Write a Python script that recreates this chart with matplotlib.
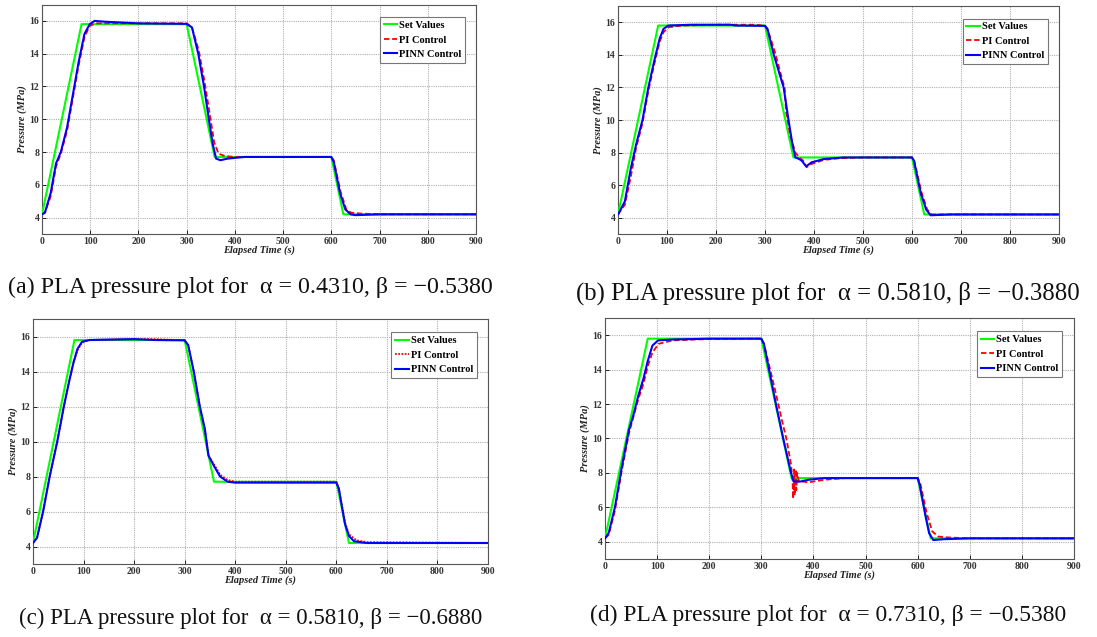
import matplotlib
matplotlib.use("Agg")
import matplotlib.pyplot as plt

# ---------------- data ----------------
t_set = [0, 82, 300, 358, 600, 625, 900]
p_set = [4.2, 15.8, 15.8, 7.7, 7.7, 4.2, 4.2]

# (a)
t_pi_a = [0, 6, 18, 29, 39, 52, 64, 76, 88, 99, 112, 300, 311, 325, 337, 348, 357, 366, 380, 400, 600, 605, 619, 631, 641, 660, 700, 900]
p_pi_a = [4.2, 4.3, 5.3, 7.1, 7.9, 9.3, 11.3, 13.3, 15.0, 15.7, 15.85, 15.85, 15.6, 14.2, 12.3, 10.3, 8.6, 7.9, 7.75, 7.7, 7.7, 7.5, 5.6, 4.5, 4.3, 4.25, 4.2, 4.2]
t_nn_a = [0, 6, 18, 29, 39, 52, 64, 76, 88, 99, 109, 130, 200, 300, 311, 324, 336, 346, 354, 361, 370, 385, 420, 600, 605, 618, 629, 640, 650, 700, 900]
p_nn_a = [4.2, 4.3, 5.5, 7.3, 8.0, 9.5, 11.5, 13.5, 15.2, 15.8, 16.0, 15.95, 15.85, 15.82, 15.6, 14.0, 12.0, 10.0, 8.5, 7.6, 7.5, 7.6, 7.7, 7.7, 7.4, 5.5, 4.5, 4.2, 4.15, 4.2, 4.2]

# (b)
t_pi_b = [0, 14, 26, 37, 50, 62, 73, 85, 93, 104, 130, 200, 280, 300, 306, 320, 335, 340, 343, 352, 362, 370, 378, 385, 395, 420, 450, 500, 600, 605, 619, 631, 640, 680, 900]
p_pi_b = [4.2, 4.8, 6.5, 8.3, 9.8, 11.8, 13.3, 14.8, 15.4, 15.7, 15.8, 15.85, 15.85, 15.78, 15.5, 14.2, 12.5, 12.0, 10.5, 9.0, 8.0, 7.7, 7.5, 7.1, 7.3, 7.55, 7.65, 7.7, 7.7, 7.45, 5.6, 4.5, 4.2, 4.2, 4.2]
t_nn_b = [0, 14, 26, 37, 50, 62, 73, 85, 93, 103, 150, 230, 240, 300, 305, 318, 338, 348, 356, 362, 370, 375, 384, 395, 420, 460, 600, 604, 618, 629, 638, 680, 900]
p_nn_b = [4.2, 5.0, 7.0, 8.5, 10.0, 12.0, 13.5, 15.0, 15.6, 15.8, 15.85, 15.85, 15.8, 15.78, 15.6, 14.0, 12.0, 10.0, 8.5, 7.7, 7.6, 7.5, 7.15, 7.4, 7.6, 7.7, 7.7, 7.5, 5.5, 4.5, 4.15, 4.2, 4.2]

# (c)
t_pi_c = [0, 8, 20, 33, 48, 61, 72, 80, 88, 97, 112, 200, 240, 300, 307, 318, 330, 340, 347, 358, 370, 385, 400, 600, 605, 617, 625, 640, 660, 900]
p_pi_c = [4.2, 4.5, 6.0, 8.0, 10.0, 12.0, 13.5, 14.5, 15.2, 15.65, 15.8, 15.85, 15.85, 15.78, 15.5, 14.0, 12.0, 10.7, 9.2, 8.7, 8.1, 7.8, 7.7, 7.7, 7.3, 5.4, 4.7, 4.35, 4.25, 4.2]
t_nn_c = [0, 8, 20, 33, 48, 61, 72, 80, 88, 97, 112, 200, 240, 300, 307, 318, 330, 340, 347, 358, 370, 385, 400, 600, 605, 617, 625, 635, 660, 900]
p_nn_c = [4.2, 4.5, 6.0, 8.0, 10.0, 12.0, 13.5, 14.5, 15.3, 15.7, 15.8, 15.85, 15.8, 15.78, 15.5, 14.0, 12.0, 10.7, 9.2, 8.6, 8.0, 7.7, 7.65, 7.65, 7.3, 5.3, 4.6, 4.3, 4.2, 4.2]

# (d)
t_pi_d = [0, 7, 19, 32, 46, 54, 64, 74, 82, 91, 103, 130, 200, 300, 305, 325, 340, 348, 357, 360, 361, 363, 364, 366, 367, 369, 372, 380, 390, 420, 460, 600, 605, 617, 628, 640, 660, 700, 900]
p_pi_d = [4.2, 4.4, 5.8, 8.1, 10.3, 11.2, 12.3, 13.2, 14.2, 15.0, 15.5, 15.7, 15.78, 15.8, 15.5, 13.0, 11.0, 10.0, 8.5, 7.5, 6.5, 8.2, 6.7, 8.2, 7.0, 8.0, 7.5, 7.5, 7.45, 7.6, 7.7, 7.7, 7.4, 5.7, 4.6, 4.3, 4.25, 4.2, 4.2]
t_nn_d = [0, 7, 19, 32, 46, 54, 64, 74, 82, 91, 102, 130, 200, 300, 305, 328, 342, 357, 362, 375, 390, 420, 600, 604, 615, 622, 630, 650, 700, 900]
p_nn_d = [4.2, 4.5, 6.0, 8.3, 10.5, 11.3, 12.5, 13.5, 14.5, 15.4, 15.7, 15.75, 15.8, 15.8, 15.5, 12.0, 10.0, 8.0, 7.5, 7.5, 7.6, 7.7, 7.7, 7.3, 5.5, 4.5, 4.1, 4.15, 4.2, 4.2]

captions = [
    "(a) PLA pressure plot for  \u03b1 = 0.4310, \u03b2 = \u22120.5380",
    "(b) PLA pressure plot for  \u03b1 = 0.5810, \u03b2 = \u22120.3880",
    "(c) PLA pressure plot for  \u03b1 = 0.5810, \u03b2 = \u22120.6880",
    "(d) PLA pressure plot for  \u03b1 = 0.7310, \u03b2 = \u22120.5380",
]
x_ticks = [0, 100, 200, 300, 400, 500, 600, 700, 800, 900]
y_ticks = [4, 6, 8, 10, 12, 14, 16]

# ---------------- figure ----------------
W, H = 1097, 637
fig = plt.figure(figsize=(W / 100, H / 100), dpi=100)
serif = ["Liberation Serif", "DejaVu Serif"]

def px_axes(l, r, t, b):
    return fig.add_axes([l / W, 1 - b / H, (r - l) / W, (b - t) / H])

boxes = [(42, 476, 4.5, 234), (618, 1059, 6, 234), (33, 488, 319, 564), (605, 1074, 318, 559)]
cap_pos = [(250, 287, 17.3), (828, 293, 17.8), (251, 618, 16.5), (828, 615, 16.9)]
series = [
    (t_pi_a, p_pi_a, t_nn_a, p_nn_a, (0, (3, 1.5))),
    (t_pi_b, p_pi_b, t_nn_b, p_nn_b, (0, (3, 1.5))),
    (t_pi_c, p_pi_c, t_nn_c, p_nn_c, (0, (1, 0.8))),
    (t_pi_d, p_pi_d, t_nn_d, p_nn_d, (0, (3, 1.5))),
]

for (l, r, t, b), (tp, pp, tn, pn, pi_ls), cap, (cx, cy, cfs) in zip(boxes, series, captions, cap_pos):
    ax = px_axes(l, r, t, b)
    ax.plot(t_set, p_set, color="#00ff00", lw=1.5, label="Set Values", zorder=3)
    ax.plot(tp, pp, color="#ff0000", lw=1.3, linestyle=pi_ls, label="PI Control", zorder=4)
    ax.plot(tn, pn, color="#0000ff", lw=1.5, label="PINN Control", zorder=5)
    ax.set_xlim(0, 900)
    ax.set_ylim(3, 17)
    ax.set_xticks(x_ticks)
    ax.set_yticks(y_ticks)
    ax.grid(True, color="#b0b0b0", linestyle=(0, (1, 1)), lw=0.8)
    ax.tick_params(direction="in", length=3, width=0.6, labelsize=7, pad=2)
    for lab in ax.get_xticklabels() + ax.get_yticklabels():
        lab.set_family(serif)
        lab.set_fontweight("bold")
        lab.set_color("#333333")
    for s in ax.spines.values():
        s.set_color("#555555")
        s.set_linewidth(0.8)
    ax.set_xlabel("Elapsed Time (s)", family=serif, fontweight="bold", style="italic", fontsize=7.5, labelpad=0, color="#222222")
    ax.set_ylabel("Pressure (MPa)", family=serif, fontweight="bold", style="italic", fontsize=7.5, labelpad=2, color="#222222")
    leg = ax.legend(loc="upper right", bbox_to_anchor=(0.975, 0.945), prop={"family": serif, "weight": "bold", "size": 7.5},
                    fancybox=False, framealpha=1, edgecolor="#777777", handlelength=1.3, handletextpad=0.2,
                    borderpad=0.35, labelspacing=0.5, borderaxespad=0)
    leg.get_frame().set_linewidth(0.8)
    fig.text(cx / W, 1 - cy / H, cap, ha="center", va="center", family=serif, fontsize=cfs, color="#111111")

fig.savefig("out.png", dpi=100)
